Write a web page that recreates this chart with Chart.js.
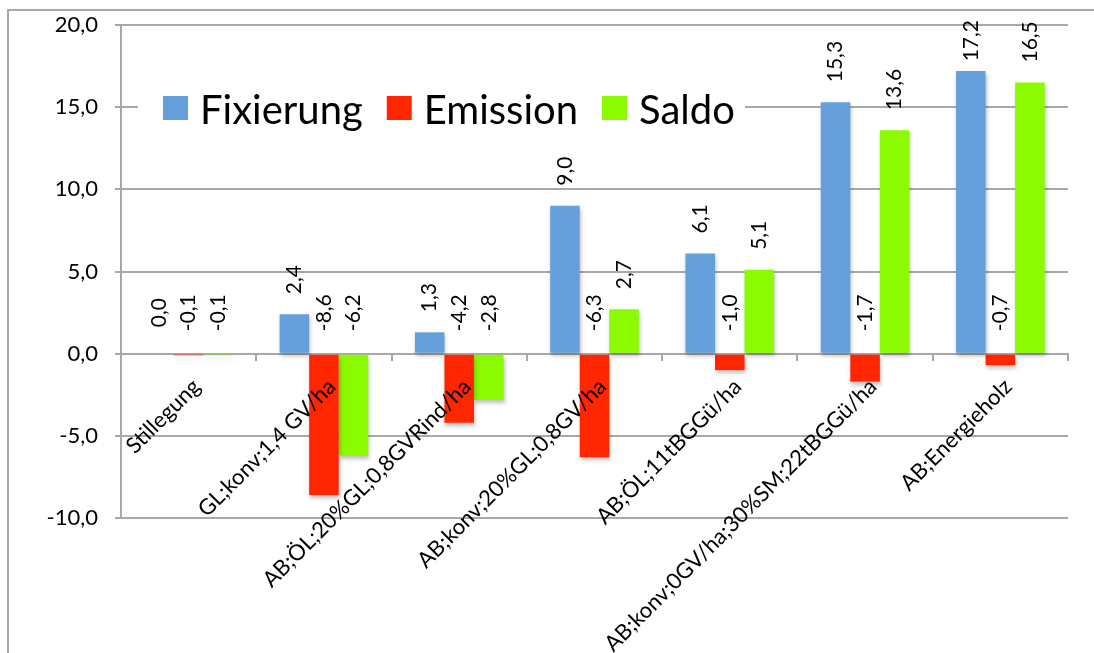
<!DOCTYPE html>
<html>
<head>
<meta charset="utf-8">
<script src="https://cdn.jsdelivr.net/npm/chart.js@4.4.1/dist/chart.umd.min.js"></script>
<style>
  html, body { margin: 0; padding: 0; background: #fff; }
  #wrap { width: 1094px; height: 653px; position: relative; }
</style>
</head>
<body>
<div id="wrap"><canvas id="chart"></canvas></div>
<script>
// Daten
const kategorien = [
  'Stillegung',
  'GL;konv;1,4 GV/ha',
  'AB;ÖL;20%GL;0,8GVRind/ha',
  'AB;konv;20%GL;0,8GV/ha',
  'AB;ÖL;11tBGGü/ha',
  'AB;konv;0GV/ha;30%SM;22tBGGü/ha',
  'AB;Energieholz'
];
const fixierung = [0.0, 2.4, 1.3, 9.0, 6.1, 15.3, 17.2];
const emission = [-0.1, -8.6, -4.2, -6.3, -1.0, -1.7, -0.7];
const saldo = [-0.1, -6.2, -2.8, 2.7, 5.1, 13.6, 16.5];
const yTicks = [-10, -5, 0, 5, 10, 15, 20];

const gridColor = '#a8a8a8';
const fontFamily = 'Lato, "Open Sans", sans-serif';

function formatZahl(v) {
  return v.toFixed(1).replace('.', ',');
}

// Rahmen um das ganze Diagramm
const rahmenPlugin = {
  id: 'rahmen',
  beforeDraw(chart) {
    const ctx = chart.ctx;
    ctx.save();
    ctx.fillStyle = '#fff';
    ctx.fillRect(0, 0, chart.width, chart.height);
    ctx.strokeStyle = gridColor;
    ctx.lineWidth = 2;
    ctx.strokeRect(8, 10, 2000, 2000);
    ctx.restore();
  }
};

// leichter Schatten unter den Balken
const schattenPlugin = {
  id: 'schatten',
  beforeDatasetDraw(chart) {
    const ctx = chart.ctx;
    ctx.save();
    ctx.shadowColor = 'rgba(0,0,0,0.25)';
    ctx.shadowBlur = 4;
    ctx.shadowOffsetX = 1;
    ctx.shadowOffsetY = 3;
  },
  afterDatasetDraw(chart) {
    chart.ctx.restore();
  }
};

// Legende im Diagrammbereich
const legendePlugin = {
  id: 'legende',
  afterDatasetsDraw(chart) {
    const ctx = chart.ctx;
    ctx.save();
    ctx.fillStyle = '#fff';
    ctx.fillRect(138, 82, 607, 52);
    ctx.font = '40px ' + fontFamily;
    ctx.textBaseline = 'alphabetic';
    ctx.textAlign = 'left';
    let x = 163;
    chart.data.datasets.forEach(ds => {
      ctx.fillStyle = ds.backgroundColor;
      ctx.fillRect(x, 96, 25, 24);
      ctx.fillStyle = '#000';
      ctx.fillText(ds.label, x + 37, 124);
      x += 37 + ctx.measureText(ds.label).width + 24;
    });
    ctx.restore();
  }
};

// Datenbeschriftungen (senkrecht)
const beschriftungPlugin = {
  id: 'beschriftung',
  afterDatasetsDraw(chart) {
    const ctx = chart.ctx;
    const nullY = chart.scales.y.getPixelForValue(0);
    const oben = chart.chartArea.top;
    chart.data.datasets.forEach((ds, i) => {
      chart.getDatasetMeta(i).data.forEach((bar, j) => {
        const v = ds.data[j];
        const txt = formatZahl(v);
        ctx.save();
        ctx.font = '21px ' + fontFamily;
        ctx.fillStyle = '#000';
        ctx.textBaseline = 'middle';
        const w = ctx.measureText(txt).width;
        if (v > 0) {
          const start = Math.max(bar.y - 20, oben - 5 + w);
          ctx.translate(bar.x, start);
          ctx.rotate(-Math.PI / 2);
          ctx.textAlign = 'left';
        } else {
          ctx.translate(bar.x, nullY - 41);
          ctx.rotate(-Math.PI / 2);
          ctx.textAlign = 'center';
        }
        ctx.fillText(txt, 0, 0);
        ctx.restore();
      });
    });
  }
};

const ctx = document.getElementById('chart').getContext('2d');
new Chart(ctx, {
  type: 'bar',
  data: {
    labels: kategorien,
    datasets: [
      { label: 'Fixierung', data: fixierung, backgroundColor: '#659fdc' },
      { label: 'Emission', data: emission, backgroundColor: '#ff2600' },
      { label: 'Saldo', data: saldo, backgroundColor: '#8cfa00' }
    ]
  },
  options: {
    responsive: true,
    maintainAspectRatio: false,
    animation: false,
    devicePixelRatio: 1,
    datasets: {
      bar: {
        barPercentage: 1,
        categoryPercentage: 0.655,
        borderWidth: 0
      }
    },
    layout: {
      padding: { top: 25, right: 26, bottom: 135, left: 0 }
    },
    plugins: {
      legend: { display: false },
      tooltip: { enabled: false }
    },
    scales: {
      x: {
        type: 'category',
        position: { y: 0 },
        offset: true,
        grid: {
          display: true,
          drawOnChartArea: false,
          drawTicks: true,
          tickLength: 6,
          color: gridColor,
          lineWidth: 2,
          offset: true
        },
        border: { display: true, color: gridColor, width: 2 },
        ticks: {
          z: 1,
          autoSkip: false,
          maxRotation: 45,
          minRotation: 45,
          padding: 14,
          labelOffset: 8,
          color: '#000',
          font: { family: fontFamily, size: 22 }
        }
      },
      y: {
        min: -10,
        max: 20,
        afterBuildTicks: scale => {
          scale.ticks = yTicks.map(v => ({ value: v }));
        },
        afterFit: scale => {
          scale.width = 121;
          scale.paddingTop = 0;
          scale.paddingBottom = 0;
        },
        grid: {
          color: gridColor,
          lineWidth: 2,
          tickLength: 6
        },
        border: { display: true, color: gridColor, width: 2 },
        ticks: {
          padding: 17,
          color: '#000',
          font: { family: fontFamily, size: 22 },
          callback: v => formatZahl(v)
        }
      }
    }
  },
  plugins: [rahmenPlugin, schattenPlugin, legendePlugin, beschriftungPlugin]
});
</script>
</body>
</html>
